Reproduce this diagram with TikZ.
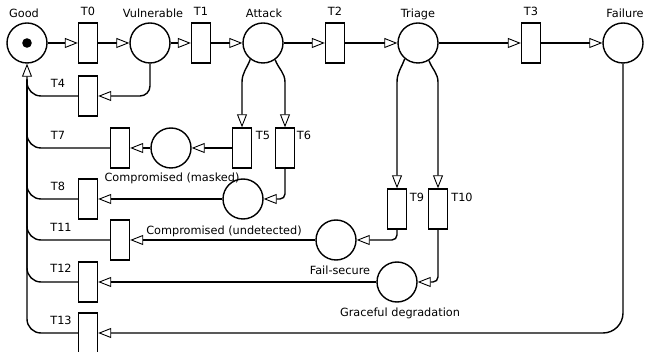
\documentclass[tikz,border=0pt]{standalone}
\usepackage{fontspec}
\setmainfont{DejaVu Sans}
\usetikzlibrary{arrows.meta,calc}
\begin{document}
\begin{tikzpicture}[x=1pt,y=1pt,
  place/.style={circle,draw,line width=1.4pt,minimum size=40pt,inner sep=0pt},
  trans/.style={rectangle,draw,line width=1.4pt,minimum width=19pt,minimum height=40pt,inner sep=0pt},
  lbl/.style={font=\fontsize{11.3}{13}\selectfont,inner sep=0pt},
  conn/.style={line width=1.4pt},
  arr/.style={conn,-{Triangle[length=13pt,width=10pt,line width=0.9pt,fill=white]}}]
\clip (0,0) rectangle (645,-352);
% places
\node[place] (good) at (27,-43) {};
\fill (good.center) circle (4.8);
\node[place] (vul) at (150,-43) {};
\node[place] (att) at (263,-43) {};
\node[place] (tri) at (418,-43) {};
\node[place] (fail) at (623,-43) {};
\node[place] (c1) at (171,-148) {};
\node[place] (masked) at (243,-199) {};
\node[place] (fs) at (336,-240) {};
\node[place] (gd) at (397,-282) {};
% transitions
\node[trans] (t0) at (88,-43) {};
\node[trans] (t1) at (201,-43) {};
\node[trans] (t2) at (335,-43) {};
\node[trans] (t3) at (531,-43) {};
\node[trans] (t4) at (88,-96) {};
\node[trans] (t5) at (242,-148) {};
\node[trans] (t6) at (285,-148) {};
\node[trans] (t7) at (120,-148) {};
\node[trans] (t8) at (88,-199) {};
\node[trans] (t9) at (397,-209) {};
\node[trans] (t10) at (438,-209) {};
\node[trans] (t11) at (120,-240) {};
\node[trans] (t12) at (88,-282) {};
\node[trans] (t13) at (88,-333) {};
% labels
\node[lbl] (lgood) at (24,-13) {Good};
\node[lbl] (lt0) at (88,-11) {T0};
\node[lbl] (lvul) at (153,-13) {Vulnerable};
\node[lbl] (lt1) at (201,-11) {T1};
\node[lbl] (latt) at (264,-13) {Attack};
\node[lbl] (lt2) at (335,-11) {T2};
\node[lbl] (ltri) at (418,-14) {Triage};
\node[lbl] (lt3) at (531,-11) {T3};
\node[lbl] (lfail) at (625,-13) {Failure};
\node[lbl] (lt4) at (58,-83) {T4};
\node[lbl] (lt7) at (58,-135) {T7};
\node[lbl] (lt8) at (58,-186) {T8};
\node[lbl] (lt11) at (61,-227) {T11};
\node[lbl] (lt12) at (61,-268) {T12};
\node[lbl] (lt13) at (61,-320) {T13};
\node[lbl] (lt5) at (263,-135) {T5};
\node[lbl] (lt6) at (304,-135) {T6};
\node[lbl] (lt9) at (417,-197) {T9};
\node[lbl] (lt10) at (462,-197) {T10};
\node[lbl] (lmasked) at (172,-178) {Compromised (masked)};
\node[lbl] (lund) at (224,-231) {Compromised (undetected)};
\node[lbl] (lfs) at (340,-270) {Fail-secure};
\node[lbl] (lgd) at (400,-313) {Graceful degradation};
% main line
\draw[arr] (good) -- (t0);
\draw[arr] (t0) -- (vul);
\draw[arr] (vul) -- (t1);
\draw[arr] (t1) -- (att);
\draw[arr] (att) -- (t2);
\draw[arr] (t2) -- (tri);
\draw[arr] (tri) -- (t3);
\draw[arr] (t3) -- (fail);
% branches
\draw[arr,rounded corners=10pt] (vul.south) |- (t4.east);
\draw[arr] (att.232) to[out=250,in=90] ($(t5.north)+(0,45)$) -- (t5.north);
\draw[arr] (att.306) to[out=290,in=90] ($(t6.north)+(0,45)$) -- (t6.north);
\draw[arr] (t5) -- (c1);
\draw[arr] (c1) -- (t7);
\draw[arr,rounded corners=5pt] (t6.south) |- (masked.east);
\draw[arr] (masked) -- (t8);
\draw[arr] (tri.230) to[out=250,in=90] ($(t9.north)+(0,106)$) -- (t9.north);
\draw[arr] (tri.302) to[out=290,in=90] ($(t10.north)+(0,106)$) -- (t10.north);
\draw[arr,rounded corners=5pt] (t9.south) |- (fs.east);
\draw[arr] (fs) -- (t11);
\draw[arr,rounded corners=5pt] (t10.south) |- (gd.east);
\draw[arr] (gd) -- (t12);
\draw[arr,rounded corners=20pt] (fail.south) |- (t13.east);
% returns to Good
\coordinate (gin) at ($(good.south)+(0,-16)$);
\draw[conn,rounded corners=14pt] (t4.west) -| (gin);
\draw[conn,rounded corners=14pt] (t7.west) -| (gin);
\draw[conn,rounded corners=14pt] (t8.west) -| (gin);
\draw[conn,rounded corners=14pt] (t11.west) -| (gin);
\draw[conn,rounded corners=14pt] (t12.west) -| (gin);
\draw[arr,rounded corners=14pt] (t13.west) -| (good.south);
\end{tikzpicture}
\end{document}
